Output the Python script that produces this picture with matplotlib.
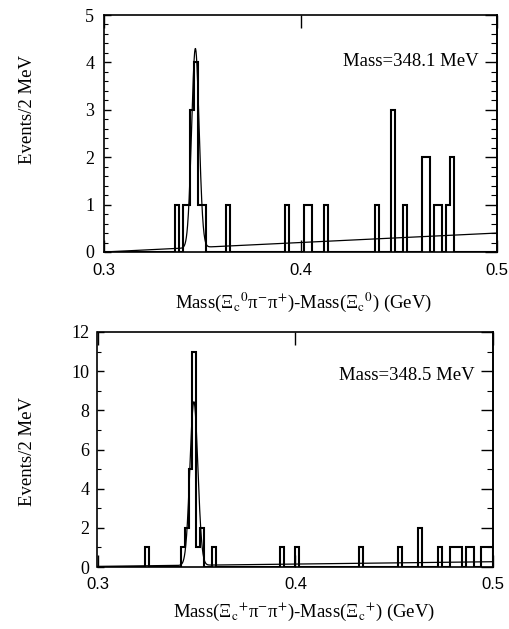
# Xi_c pi pi mass difference spectra, two panels
import numpy as np
import matplotlib
matplotlib.use('Agg')
import matplotlib.pyplot as plt
from matplotlib.ticker import MultipleLocator

plt.rcParams['font.family'] = 'Liberation Serif'
plt.rcParams['mathtext.fontset'] = 'stix'

# ---------------------------- data
# 2 MeV bins between 0.300 and 0.500 GeV
edges = np.linspace(0.3, 0.5, 101)

# top panel: Xi_c0 pi- pi+  (bin index, events)
top_bins = [18, 20, 21, 22, 23, 24, 25, 31, 46, 51, 52, 56, 69, 73, 76, 81, 82, 84, 85, 87, 88]
top_counts = [1, 1, 1, 3, 4, 1, 1, 1, 1, 1, 1, 1, 1, 3, 1, 2, 2, 1, 1, 1, 2]

# bottom panel: Xi_c+ pi- pi+
bot_bins = [12, 21, 22, 23, 24, 25, 26, 29, 46, 50, 66, 76, 81, 86, 89, 90, 91, 93, 94, 97, 98, 99]
bot_counts = [1, 1, 2, 5, 11, 1, 2, 1, 1, 1, 1, 1, 2, 1, 1, 1, 1, 1, 1, 1, 1, 1]

# fit: gaussian + linear background (bg at 0.3 and at 0.5)
top_mean, top_sigma, top_amp = 0.3465, 0.0019, 4.2
top_bg = (0.0, 0.4)
bot_mean, bot_sigma, bot_amp = 0.3487, 0.0020, 8.35
bot_bg = (0.03, 0.27)

top_text = 'Mass=348.1 MeV'
bot_text = 'Mass=348.5 MeV'
top_xlabel = r'Mass(Ξ$_\mathrm{c}{}^\mathrm{0}$π$^{-}$π$^{+}$)-Mass(Ξ$_\mathrm{c}{}^\mathrm{0}$) (GeV)'
bot_xlabel = r'Mass(Ξ$_\mathrm{c}{}^{+}$π$^{-}$π$^{+}$)-Mass(Ξ$_\mathrm{c}{}^{+}$) (GeV)'
ylabel = 'Events/2 MeV'


def fill_hist(bins, counts):
    h = np.zeros(len(edges) - 1)
    h[bins] = counts
    return h


def fit_curve(x, mean, sigma, amp, bg):
    lin = bg[0] + (bg[1] - bg[0]) * (x - 0.3) / 0.2
    return lin + amp * np.exp(-0.5 * ((x - mean) / sigma) ** 2)


def draw_panel(ax, h, mean, sigma, amp, bg, ymax, ymaj, ymin_step, text, ty, ypad, xpad):
    ax.stairs(h, edges, baseline=0, color='k', lw=1.5)
    xf = np.linspace(0.3, 0.5, 2000)
    ax.plot(xf, fit_curve(xf, mean, sigma, amp, bg), color='k', lw=0.9)

    ax.set_xlim(0.3, 0.5)
    ax.set_ylim(0, ymax)
    ax.set_xticks([0.3, 0.4, 0.5])
    ax.set_xticklabels(['0.3', '0.4', '0.5'], fontfamily='Liberation Sans', fontsize=12)
    ax.yaxis.set_major_locator(MultipleLocator(ymaj))
    ax.yaxis.set_minor_locator(MultipleLocator(ymin_step))
    ax.tick_params(axis='x', direction='in', top=True, bottom=True, length=9, width=1, pad=xpad)
    ax.tick_params(axis='y', which='major', direction='in', length=5, width=1,
                   labelsize=13, pad=ypad)
    ax.tick_params(axis='y', which='minor', direction='in', length=3, width=0.8)

    # longer ticks on the right-hand side
    sec = ax.secondary_yaxis('right')
    sec.yaxis.set_major_locator(MultipleLocator(ymaj))
    sec.yaxis.set_minor_locator(MultipleLocator(ymin_step))
    sec.tick_params(which='major', direction='in', length=9, width=1, labelright=False)
    sec.tick_params(which='minor', direction='in', length=4, width=0.8)
    sec.spines['right'].set_linewidth(1.2)

    for s in ax.spines.values():
        s.set_linewidth(1.2)

    ax.text(0.4905, ty, text, ha='right', va='baseline', fontsize=13.5)


fig = plt.figure(figsize=(5.10, 6.29), dpi=100)

ax1 = fig.add_axes([104 / 510, 1 - 252 / 629, 393 / 510, 237 / 629])
draw_panel(ax1, fill_hist(top_bins, top_counts), top_mean, top_sigma, top_amp, top_bg,
           5, 1, 0.2, top_text, 3.93, 7, 8)

ax2 = fig.add_axes([97.5 / 510, 1 - 567 / 629, 395.8 / 510, 235 / 629])
draw_panel(ax2, fill_hist(bot_bins, bot_counts), bot_mean, bot_sigma, bot_amp, bot_bg,
           12, 2, 1, bot_text, 9.55, 6, 7)

fig.text(28 / 510, 1 - 110 / 629, ylabel, rotation=90, ha='center', va='center', fontsize=13.5)
fig.text(28 / 510, 1 - 452 / 629, ylabel, rotation=90, ha='center', va='center', fontsize=13.5)
fig.text(304 / 510, 1 - 302 / 629, top_xlabel, ha='center', va='center', fontsize=13.5)
fig.text(304 / 510, 1 - 612 / 629, bot_xlabel, ha='center', va='center', fontsize=13.5)

fig.savefig('out.png', dpi=100)
